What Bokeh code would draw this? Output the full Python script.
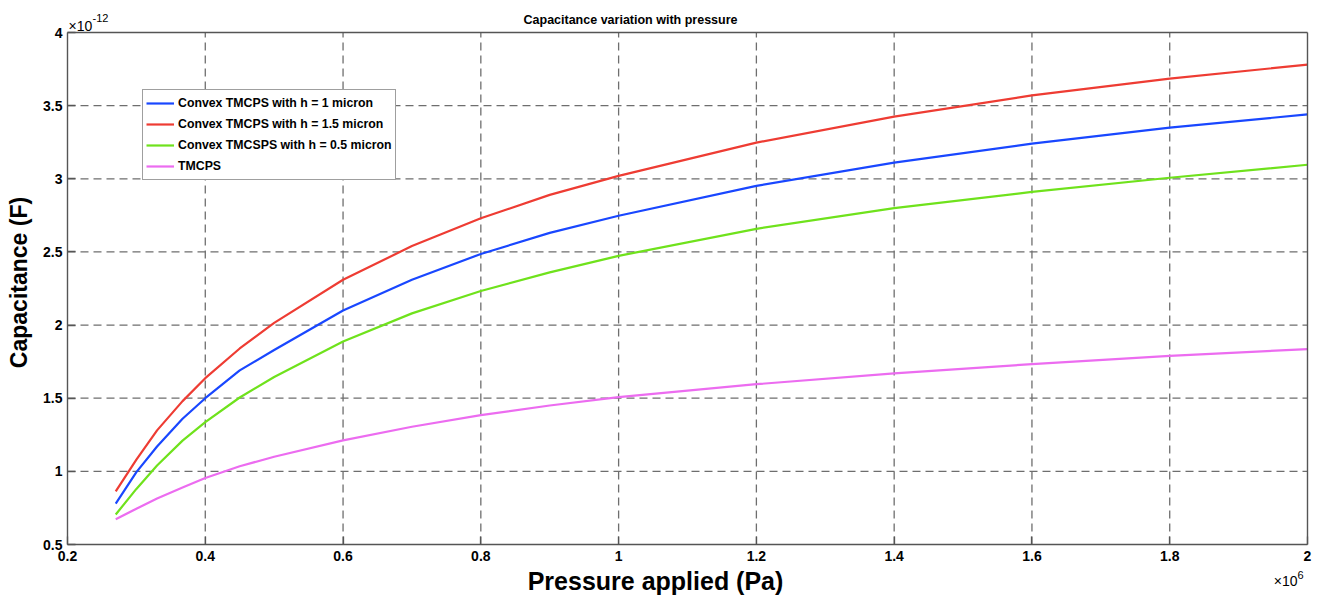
import math
from bokeh.plotting import figure
from bokeh.models import Legend, LegendItem, LinearAxis, Label, Range1d, FixedTicker
from bokeh.embed import file_html
from bokeh.resources import INLINE

# Pressure (x 1e6 Pa)
pressure = [0.27, 0.30, 0.33, 0.367, 0.40, 0.45, 0.50, 0.60, 0.70, 0.80, 0.90,
            1.00, 1.20, 1.40, 1.60, 1.80, 2.00]
# Capacitance (x 1e-12 F)
cap_h1 = [0.78, 0.995, 1.17, 1.36, 1.50, 1.69, 1.83, 2.10, 2.31, 2.486, 2.63,
          2.747, 2.952, 3.11, 3.24, 3.35, 3.44]
cap_h15 = [0.863, 1.08, 1.28, 1.48, 1.637, 1.84, 2.015, 2.31, 2.54, 2.73, 2.89,
           3.02, 3.247, 3.425, 3.57, 3.685, 3.78]
cap_h05 = [0.705, 0.88, 1.04, 1.21, 1.336, 1.505, 1.645, 1.887, 2.08, 2.233, 2.36,
           2.473, 2.658, 2.80, 2.91, 3.007, 3.096]
cap_tmcps = [0.672, 0.745, 0.815, 0.89, 0.955, 1.035, 1.10, 1.212, 1.305, 1.384, 1.45,
             1.507, 1.596, 1.67, 1.733, 1.79, 1.836]

series_names = ["Convex TMCPS with h = 1 micron",
                "Convex TMCPS with h = 1.5 micron",
                "Convex TMCSPS with h = 0.5 micron",
                "TMCPS"]
series_colors = ["#1947ff", "#ee3c33", "#6fe21c", "#ec6cf0"]

x_ticks = [0.2, 0.4, 0.6, 0.8, 1.0, 1.2, 1.4, 1.6, 1.8, 2]
y_ticks = [0.5, 1, 1.5, 2, 2.5, 3, 3.5, 4]

title_text = "Capacitance variation with pressure"
x_label = "Pressure applied (Pa)"
y_label = "Capacitance (F)"

FONT = "Liberation Sans"
AXIS_COLOR = "#555555"
GRID_COLOR = "#6e6e6e"

# ---- layout (canvas pixels, origin top-left) ----
W, H = 1317, 596
BOX_L, BOX_R, BOX_T, BOX_B = 67, 1307, 32, 544
x_min, x_max = x_ticks[0], x_ticks[-1]
y_min, y_max = y_ticks[0], y_ticks[-1]
kx = (x_max - x_min) / (BOX_R - BOX_L)
ky = (y_max - y_min) / (BOX_B - BOX_T)
x_start, x_end = x_min - BOX_L * kx, x_max + (W - BOX_R) * kx
y_start, y_end = y_min - (H - BOX_B) * ky, y_max + BOX_T * ky


def fx(px):
    return x_start + px * kx


def fy(py):
    return y_end - py * ky


p = figure(width=W, height=H, output_backend="svg", toolbar_location=None,
           title=None, x_axis_location=None, y_axis_location=None,
           x_range=Range1d(x_start, x_end), y_range=Range1d(y_start, y_end),
           min_border=0)
p.outline_line_color = None
p.background_fill_color = "white"
p.border_fill_color = "white"
p.grid.visible = False

xt = FixedTicker(ticks=x_ticks)
yt = FixedTicker(ticks=y_ticks)

# grid lines (dashed) inside the box
inner_x = x_ticks[1:-1]
inner_y = y_ticks[1:-1]
p.segment(x0=inner_x, y0=[y_min] * len(inner_x), x1=inner_x, y1=[y_max] * len(inner_x),
          line_color=GRID_COLOR, line_width=1.3, line_dash="8 5")
p.segment(x0=[x_min] * len(inner_y), y0=inner_y, x1=[x_max] * len(inner_y), y1=inner_y,
          line_color=GRID_COLOR, line_width=1.3, line_dash="8 5")

common = dict(axis_line_color=AXIS_COLOR, axis_line_width=1.4,
              major_tick_line_color=AXIS_COLOR, major_tick_line_width=1.3,
              major_tick_in=8, major_tick_out=0, minor_tick_line_color=None,
              major_label_text_font=FONT, major_label_text_font_style="bold",
              major_label_text_font_size="14px", major_label_text_color="black")

xaxis = LinearAxis(ticker=xt, fixed_location=y_min, bounds=(x_min, x_max),
                   major_label_standoff=6, major_label_overrides={2: "2"}, **common)
yaxis = LinearAxis(ticker=yt, fixed_location=x_min, bounds=(y_min, y_max),
                   major_label_standoff=5,
                   major_label_overrides={1: "1", 2: "2", 3: "3", 4: "4"}, **common)
p.add_layout(xaxis, "below")
p.add_layout(yaxis, "left")

top_axis = LinearAxis(ticker=FixedTicker(ticks=[]), fixed_location=y_max,
                      bounds=(x_min, x_max), axis_line_color=AXIS_COLOR,
                      axis_line_width=1.4, minor_tick_line_color=None)
right_axis = LinearAxis(ticker=FixedTicker(ticks=[]), fixed_location=x_max,
                        bounds=(y_min, y_max), axis_line_color=AXIS_COLOR,
                        axis_line_width=1.4, minor_tick_line_color=None)
p.add_layout(top_axis, "above")
p.add_layout(right_axis, "right")

series = [cap_h1, cap_h15, cap_h05, cap_tmcps]
items = []
for name, col, vals in zip(series_names, series_colors, series):
    r = p.line(pressure, vals, line_color=col, line_width=2.2, line_join="round")
    items.append(LegendItem(label=name, renderers=[r]))

legend = Legend(items=items, location=(142, H - 180),
                border_line_color="#404040", border_line_width=1,
                background_fill_color="white", background_fill_alpha=1,
                label_text_font=FONT, label_text_font_style="bold",
                label_text_font_size="12.3px", label_text_color="black",
                glyph_width=28, glyph_height=20, label_height=20,
                label_standoff=4, padding=3, spacing=1, margin=0)
p.add_layout(legend, "center")

# texts
p.add_layout(Label(x=fx(630), y=fy(19), text=title_text, text_align="center",
                   text_baseline="middle", text_font=FONT, text_font_style="bold",
                   text_font_size="12.5px", text_color="black"))
p.add_layout(Label(x=fx(655), y=fy(580), text=x_label, text_align="center",
                   text_baseline="middle", text_font=FONT, text_font_style="bold",
                   text_font_size="25px", text_color="black"))
p.add_layout(Label(x=fx(18), y=fy(282), text=y_label, angle=math.pi / 2,
                   text_align="center", text_baseline="middle", text_font=FONT,
                   text_font_style="bold", text_font_size="23px", text_color="black"))
# exponent labels
p.add_layout(Label(x=fx(68), y=fy(25), text="×10", text_align="left",
                   text_baseline="middle", text_font=FONT, text_font_size="14px",
                   text_color="black"))
p.add_layout(Label(x=fx(92), y=fy(17), text="-12", text_align="left",
                   text_baseline="middle", text_font=FONT, text_font_size="11px",
                   text_color="black"))
p.add_layout(Label(x=fx(1297), y=fy(580), text="×10", text_align="right",
                   text_baseline="middle", text_font=FONT, text_font_size="14px",
                   text_color="black"))
p.add_layout(Label(x=fx(1297), y=fy(574), text="6", text_align="left",
                   text_baseline="middle", text_font=FONT, text_font_size="11px",
                   text_color="black"))

open("out.html", "w").write(file_html(p, INLINE))
